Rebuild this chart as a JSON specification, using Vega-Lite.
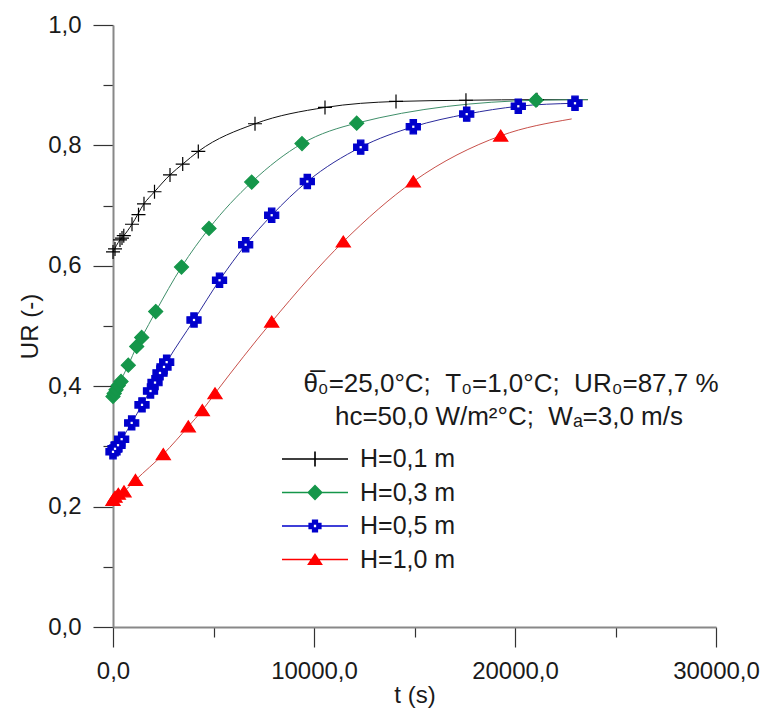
{
  "$schema": "https://vega.github.io/schema/vega-lite/v6.json",
  "width": 603,
  "height": 602,
  "autosize": {"type": "none"},
  "padding": {"left": 113, "top": 25, "right": 47, "bottom": 88},
  "background": "white",
  "config": {
    "view": {"stroke": null},
    "font": "Liberation Sans",
    "axis": {"grid": false}
  },
  "datasets": {
    "markers": [
      {"H": "H=0,1 m", "t": 0, "ur": 0.623},
      {"H": "H=0,1 m", "t": 100, "ur": 0.628},
      {"H": "H=0,1 m", "t": 348, "ur": 0.643},
      {"H": "H=0,1 m", "t": 448, "ur": 0.646},
      {"H": "H=0,1 m", "t": 537, "ur": 0.650},
      {"H": "H=0,1 m", "t": 945, "ur": 0.669},
      {"H": "H=0,1 m", "t": 1269, "ur": 0.685},
      {"H": "H=0,1 m", "t": 1542, "ur": 0.703},
      {"H": "H=0,1 m", "t": 2065, "ur": 0.723},
      {"H": "H=0,1 m", "t": 2836, "ur": 0.751},
      {"H": "H=0,1 m", "t": 3468, "ur": 0.769},
      {"H": "H=0,1 m", "t": 4244, "ur": 0.790},
      {"H": "H=0,1 m", "t": 7065, "ur": 0.836},
      {"H": "H=0,1 m", "t": 10547, "ur": 0.863},
      {"H": "H=0,1 m", "t": 14080, "ur": 0.873},
      {"H": "H=0,1 m", "t": 17560, "ur": 0.875},
      {"H": "H=0,1 m", "t": 21094, "ur": 0.876},
      {"H": "H=0,3 m", "t": 0, "ur": 0.383},
      {"H": "H=0,3 m", "t": 60, "ur": 0.388},
      {"H": "H=0,3 m", "t": 150, "ur": 0.394},
      {"H": "H=0,3 m", "t": 260, "ur": 0.401},
      {"H": "H=0,3 m", "t": 400, "ur": 0.408},
      {"H": "H=0,3 m", "t": 761, "ur": 0.435},
      {"H": "H=0,3 m", "t": 1179, "ur": 0.466},
      {"H": "H=0,3 m", "t": 1428, "ur": 0.481},
      {"H": "H=0,3 m", "t": 2124, "ur": 0.524},
      {"H": "H=0,3 m", "t": 3408, "ur": 0.598},
      {"H": "H=0,3 m", "t": 4776, "ur": 0.662},
      {"H": "H=0,3 m", "t": 6900, "ur": 0.739},
      {"H": "H=0,3 m", "t": 9403, "ur": 0.803},
      {"H": "H=0,3 m", "t": 12124, "ur": 0.837},
      {"H": "H=0,3 m", "t": 21044, "ur": 0.875},
      {"H": "H=0,5 m", "t": 0, "ur": 0.291},
      {"H": "H=0,5 m", "t": 100, "ur": 0.296},
      {"H": "H=0,5 m", "t": 250, "ur": 0.302},
      {"H": "H=0,5 m", "t": 430, "ur": 0.312},
      {"H": "H=0,5 m", "t": 930, "ur": 0.339},
      {"H": "H=0,5 m", "t": 1443, "ur": 0.369},
      {"H": "H=0,5 m", "t": 1866, "ur": 0.392},
      {"H": "H=0,5 m", "t": 2090, "ur": 0.406},
      {"H": "H=0,5 m", "t": 2338, "ur": 0.422},
      {"H": "H=0,5 m", "t": 2537, "ur": 0.432},
      {"H": "H=0,5 m", "t": 2670, "ur": 0.440},
      {"H": "H=0,5 m", "t": 4030, "ur": 0.510},
      {"H": "H=0,5 m", "t": 5300, "ur": 0.576},
      {"H": "H=0,5 m", "t": 6600, "ur": 0.635},
      {"H": "H=0,5 m", "t": 7895, "ur": 0.684},
      {"H": "H=0,5 m", "t": 9667, "ur": 0.740},
      {"H": "H=0,5 m", "t": 12323, "ur": 0.797},
      {"H": "H=0,5 m", "t": 14940, "ur": 0.831},
      {"H": "H=0,5 m", "t": 17597, "ur": 0.852},
      {"H": "H=0,5 m", "t": 20164, "ur": 0.865},
      {"H": "H=0,5 m", "t": 22985, "ur": 0.870},
      {"H": "H=1,0 m", "t": 0, "ur": 0.211},
      {"H": "H=1,0 m", "t": 100, "ur": 0.216},
      {"H": "H=1,0 m", "t": 264, "ur": 0.221},
      {"H": "H=1,0 m", "t": 547, "ur": 0.225},
      {"H": "H=1,0 m", "t": 1120, "ur": 0.244},
      {"H": "H=1,0 m", "t": 2502, "ur": 0.287},
      {"H": "H=1,0 m", "t": 3746, "ur": 0.333},
      {"H": "H=1,0 m", "t": 4443, "ur": 0.360},
      {"H": "H=1,0 m", "t": 5075, "ur": 0.388},
      {"H": "H=1,0 m", "t": 7895, "ur": 0.507},
      {"H": "H=1,0 m", "t": 11457, "ur": 0.640},
      {"H": "H=1,0 m", "t": 14940, "ur": 0.740},
      {"H": "H=1,0 m", "t": 19288, "ur": 0.816}
    ],
    "curves": [
      {"H": "H=0,1 m", "t": 0, "ur": 0.623},
      {"H": "H=0,1 m", "t": 348, "ur": 0.643},
      {"H": "H=0,1 m", "t": 537, "ur": 0.650},
      {"H": "H=0,1 m", "t": 945, "ur": 0.669},
      {"H": "H=0,1 m", "t": 1542, "ur": 0.703},
      {"H": "H=0,1 m", "t": 2065, "ur": 0.723},
      {"H": "H=0,1 m", "t": 2836, "ur": 0.751},
      {"H": "H=0,1 m", "t": 3468, "ur": 0.769},
      {"H": "H=0,1 m", "t": 4244, "ur": 0.790},
      {"H": "H=0,1 m", "t": 7065, "ur": 0.836},
      {"H": "H=0,1 m", "t": 10547, "ur": 0.863},
      {"H": "H=0,1 m", "t": 14080, "ur": 0.873},
      {"H": "H=0,1 m", "t": 17560, "ur": 0.875},
      {"H": "H=0,1 m", "t": 21094, "ur": 0.876},
      {"H": "H=0,1 m", "t": 23630, "ur": 0.876},
      {"H": "H=0,3 m", "t": 0, "ur": 0.383},
      {"H": "H=0,3 m", "t": 260, "ur": 0.401},
      {"H": "H=0,3 m", "t": 761, "ur": 0.435},
      {"H": "H=0,3 m", "t": 1179, "ur": 0.466},
      {"H": "H=0,3 m", "t": 1428, "ur": 0.481},
      {"H": "H=0,3 m", "t": 2124, "ur": 0.524},
      {"H": "H=0,3 m", "t": 3408, "ur": 0.598},
      {"H": "H=0,3 m", "t": 4776, "ur": 0.662},
      {"H": "H=0,3 m", "t": 6900, "ur": 0.739},
      {"H": "H=0,3 m", "t": 9403, "ur": 0.803},
      {"H": "H=0,3 m", "t": 12124, "ur": 0.837},
      {"H": "H=0,3 m", "t": 21044, "ur": 0.875},
      {"H": "H=0,3 m", "t": 23630, "ur": 0.876},
      {"H": "H=0,5 m", "t": 0, "ur": 0.291},
      {"H": "H=0,5 m", "t": 430, "ur": 0.312},
      {"H": "H=0,5 m", "t": 930, "ur": 0.339},
      {"H": "H=0,5 m", "t": 1443, "ur": 0.369},
      {"H": "H=0,5 m", "t": 2090, "ur": 0.406},
      {"H": "H=0,5 m", "t": 2670, "ur": 0.440},
      {"H": "H=0,5 m", "t": 4030, "ur": 0.510},
      {"H": "H=0,5 m", "t": 5300, "ur": 0.576},
      {"H": "H=0,5 m", "t": 6600, "ur": 0.635},
      {"H": "H=0,5 m", "t": 7895, "ur": 0.684},
      {"H": "H=0,5 m", "t": 9667, "ur": 0.740},
      {"H": "H=0,5 m", "t": 12323, "ur": 0.797},
      {"H": "H=0,5 m", "t": 14940, "ur": 0.831},
      {"H": "H=0,5 m", "t": 17597, "ur": 0.852},
      {"H": "H=0,5 m", "t": 20164, "ur": 0.865},
      {"H": "H=0,5 m", "t": 22985, "ur": 0.870},
      {"H": "H=1,0 m", "t": 0, "ur": 0.211},
      {"H": "H=1,0 m", "t": 547, "ur": 0.225},
      {"H": "H=1,0 m", "t": 1120, "ur": 0.244},
      {"H": "H=1,0 m", "t": 2502, "ur": 0.287},
      {"H": "H=1,0 m", "t": 3746, "ur": 0.333},
      {"H": "H=1,0 m", "t": 4443, "ur": 0.360},
      {"H": "H=1,0 m", "t": 5075, "ur": 0.388},
      {"H": "H=1,0 m", "t": 7895, "ur": 0.507},
      {"H": "H=1,0 m", "t": 11457, "ur": 0.640},
      {"H": "H=1,0 m", "t": 14940, "ur": 0.740},
      {"H": "H=1,0 m", "t": 19288, "ur": 0.816},
      {"H": "H=1,0 m", "t": 22820, "ur": 0.844}
    ],
    "note": [
      {"line": "θ̅₀=25,0°C; \u00a0T₀=1,0°C; \u00a0UR₀=87,7 %", "order": 1},
      {"line": "hᴄ=50,0 W/m²°C; \u00a0Wₐ=3,0 m/s", "order": 2}
    ]
  },
  "layer": [
    {
      "data": {"name": "curves"},
      "mark": {"type": "line", "interpolate": "monotone", "strokeWidth": 1},
      "encoding": {
        "x": {
          "field": "t",
          "type": "quantitative",
          "scale": {"domain": [0, 30000], "nice": false, "zero": false},
          "axis": {
            "title": "t (s)",
            "values": [0, 5000, 10000, 15000, 20000, 25000, 30000],
            "labelExpr": "datum.value % 10000 === 0 ? replace(format(datum.value, '.1f'), '.', ',') : ''",
            "tickSize": {"condition": {"test": "datum.value % 10000 === 0", "value": 20}, "value": 10},
            "labelFontSize": 24,
            "labelPadding": 12,
            "labelFlush": false,
            "labelOverlap": false,
            "labelColor": "#1a1a1a",
            "titleFontSize": 24,
            "titleFontWeight": "normal",
            "titleColor": "#1a1a1a",
            "titlePadding": 0,
            "domainColor": "#888888",
            "domainWidth": 2,
            "tickColor": "#333333",
            "tickWidth": 1.2
          }
        },
        "y": {
          "field": "ur",
          "type": "quantitative",
          "scale": {"domain": [0, 1], "nice": false, "zero": false},
          "axis": {
            "title": "UR (-)",
            "values": [0, 0.1, 0.2, 0.3, 0.4, 0.5, 0.6, 0.7, 0.8, 0.9, 1.0],
            "labelExpr": "abs(datum.value*5 - round(datum.value*5)) < 0.001 ? replace(format(datum.value, '.1f'), '.', ',') : ''",
            "tickSize": {"condition": {"test": "abs(datum.value*5 - round(datum.value*5)) < 0.001", "value": 20}, "value": 10},
            "labelFontSize": 24,
            "labelPadding": 12,
            "labelFlush": false,
            "labelOverlap": false,
            "labelColor": "#1a1a1a",
            "titleFontSize": 24,
            "titleFontWeight": "normal",
            "titleColor": "#1a1a1a",
            "titlePadding": 5,
            "domainColor": "#888888",
            "domainWidth": 2,
            "tickColor": "#333333",
            "tickWidth": 1.2
          }
        },
        "color": {
          "field": "H",
          "type": "nominal",
          "scale": {"domain": ["H=0,1 m", "H=0,3 m", "H=0,5 m", "H=1,0 m"], "range": ["#111111", "#3f8f6a", "#2b2b9c", "#c8504a"]},
          "legend": null
        }
      }
    },
    {
      "data": {"name": "markers"},
      "mark": {"type": "point", "filled": true, "opacity": 1, "strokeWidth": 1.2},
      "encoding": {
        "x": {"field": "t", "type": "quantitative"},
        "y": {"field": "ur", "type": "quantitative"},
        "shape": {
          "field": "H",
          "type": "nominal",
          "scale": {"domain": ["H=0,1 m", "H=0,3 m", "H=0,5 m", "H=1,0 m"], "range": [
            "M-1,0H1M0,-1V1",
            "M0,-1L1,0L0,1L-1,0Z",
            "M-0.45,-1H0.45V-0.45H1V0.45H0.45V1H-0.45V0.45H-1V-0.45H-0.45Z",
            "M0,-0.8L1,0.75H-1Z"
          ]},
          "legend": null
        },
        "size": {
          "field": "H",
          "type": "nominal",
          "scale": {"domain": ["H=0,1 m", "H=0,3 m", "H=0,5 m", "H=1,0 m"], "range": [196, 200, 144, 225]},
          "legend": null
        },
        "fill": {
          "field": "H",
          "type": "nominal",
          "scale": {"domain": ["H=0,1 m", "H=0,3 m", "H=0,5 m", "H=1,0 m"], "range": ["#000000", "#15964a", "#0000cc", "#ff0000"]},
          "legend": null
        },
        "stroke": {
          "field": "H",
          "type": "nominal",
          "scale": {"domain": ["H=0,1 m", "H=0,3 m", "H=0,5 m", "H=1,0 m"], "range": ["#000000", "#15964a", "#0000cc", "#ff0000"]},
          "legend": null
        }
      }
    },
    {
      "data": {"name": "markers"},
      "transform": [{"filter": "datum.H === 'H=0,5 m'"}],
      "mark": {"type": "point", "shape": "square", "filled": true, "opacity": 1, "size": 5, "color": "white", "strokeWidth": 0},
      "encoding": {
        "x": {"field": "t", "type": "quantitative"},
        "y": {"field": "ur", "type": "quantitative"}
      }
    },
    {
      "data": {"name": "markers"},
      "transform": [{"filter": "datum.t < 0"}],
      "mark": {"type": "point", "filled": true, "opacity": 1, "strokeWidth": 0},
      "encoding": {
        "x": {"field": "t", "type": "quantitative"},
        "y": {"field": "ur", "type": "quantitative"},
        "shape": {
          "field": "H",
          "type": "nominal",
          "scale": {"domain": ["H=0,1 m", "H=0,3 m", "H=0,5 m", "H=1,0 m"], "range": [
            "M-1,-0.025H-0.025V-0.23H0.025V-0.025H1V0.025H0.025V0.23H-0.025V0.025H-1Z",
            "M-1,-0.025H-0.215L0,-0.24L0.215,-0.025H1V0.025H0.215L0,0.24L-0.215,0.025H-1Z",
            "M-1,-0.025H-0.2V-0.095H-0.095V-0.2H0.095V-0.095H0.2V-0.025H1V0.025H0.2V0.095H0.095V0.2H-0.095V0.095H-0.2V0.025H-1ZM-0.035,-0.035V0.035H0.035V-0.035Z",
            "M-1,-0.025H-0.114L0,-0.2L0.114,-0.025H1V0.025H0.146L0.24,0.17H-0.24L-0.146,0.025H-1Z"
          ]},
          "legend": {
            "title": null, "orient": "none", "legendX": 169, "legendY": 422,
            "symbolSize": 4356, "symbolStrokeWidth": 0, "symbolOpacity": 1,
            "labelFontSize": 25, "labelOffset": 12, "labelColor": "#1a1a1a", "labelLimit": 300,
            "clipHeight": 24, "rowPadding": 8.5, "padding": 0
          }
        },
        "color": {
          "field": "H",
          "type": "nominal",
          "scale": {"domain": ["H=0,1 m", "H=0,3 m", "H=0,5 m", "H=1,0 m"], "range": ["#000000", "#15964a", "#0000cc", "#ff0000"]},
          "legend": {
            "title": null, "orient": "none", "legendX": 169, "legendY": 422,
            "symbolSize": 4356, "symbolStrokeWidth": 0, "symbolOpacity": 1,
            "labelFontSize": 25, "labelOffset": 12, "labelColor": "#1a1a1a", "labelLimit": 300,
            "clipHeight": 24, "rowPadding": 8.5, "padding": 0
          }
        }
      }
    },
    {
      "data": {"name": "note"},
      "transform": [{"filter": "datum.order === 1"}],
      "mark": {"type": "text", "align": "center", "baseline": "middle", "fontSize": 26, "color": "#1a1a1a", "font": "Liberation Sans"},
      "encoding": {
        "x": {"datum": 19800, "type": "quantitative"},
        "y": {"datum": 0.403, "type": "quantitative"},
        "text": {"field": "line", "type": "nominal"}
      }
    },
    {
      "data": {"name": "note"},
      "transform": [{"filter": "datum.order === 2"}],
      "mark": {"type": "text", "align": "center", "baseline": "middle", "fontSize": 26, "color": "#1a1a1a", "font": "Liberation Sans"},
      "encoding": {
        "x": {"datum": 19700, "type": "quantitative"},
        "y": {"datum": 0.349, "type": "quantitative"},
        "text": {"field": "line", "type": "nominal"}
      }
    }
  ],
  "resolve": {"scale": {"color": "independent", "shape": "independent"}}
}
